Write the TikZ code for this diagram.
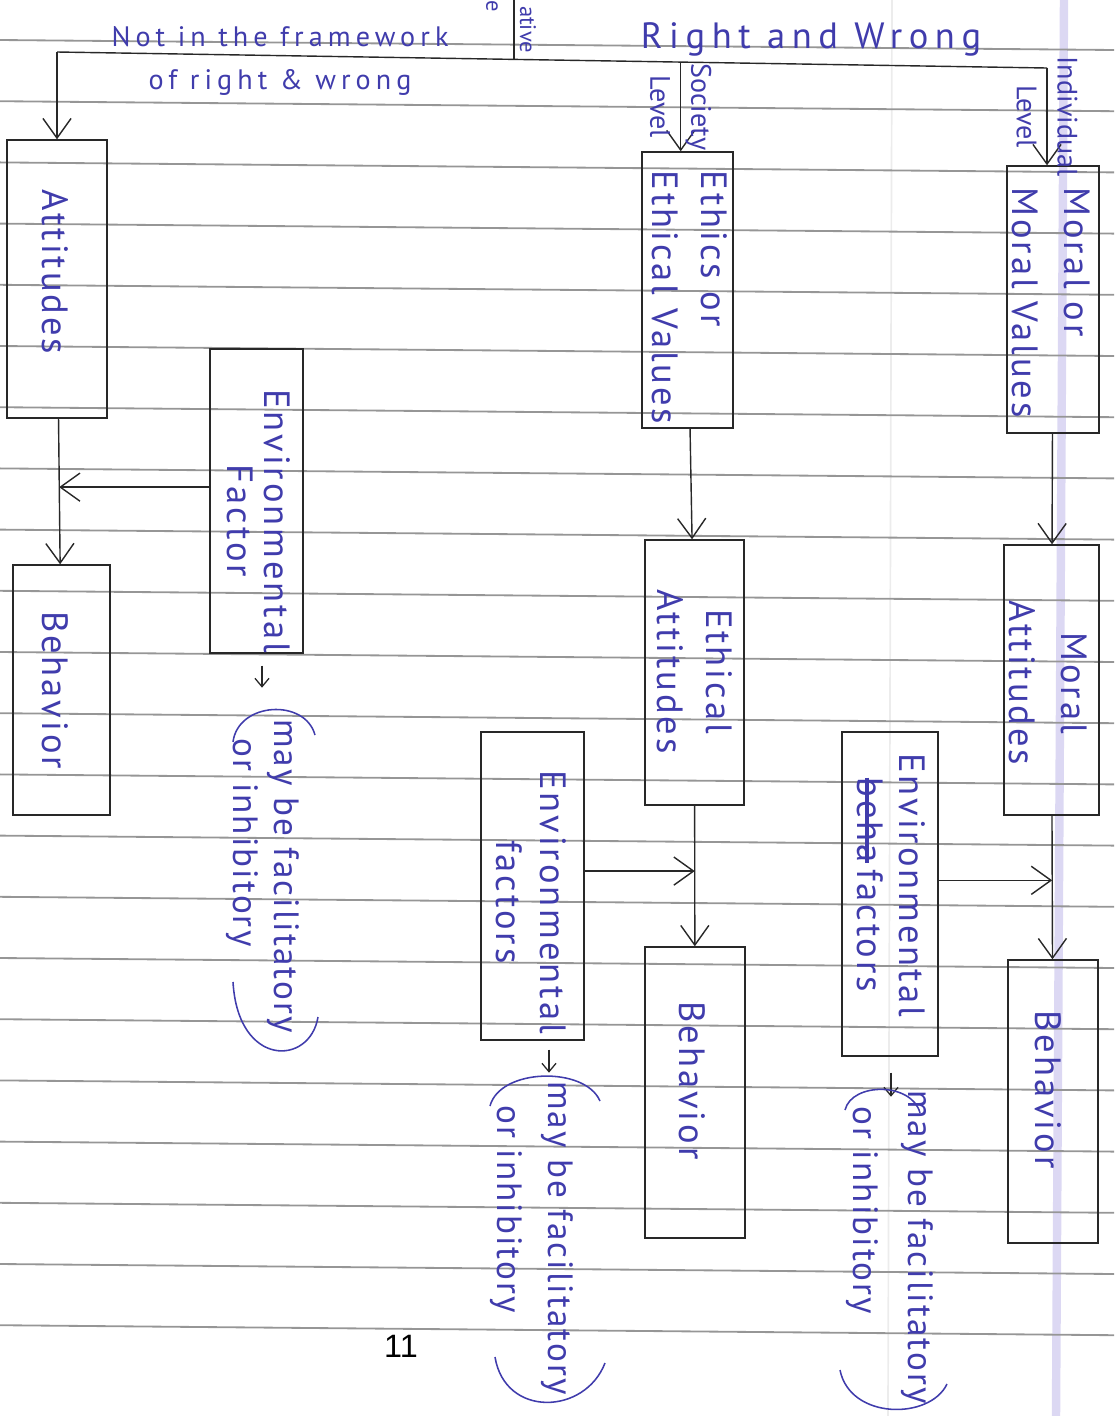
\documentclass[tikz,border=0pt]{standalone}
\usepackage{fontspec}
\setmainfont{PT Sans}
\newfontfamily\hand{PT Sans}
\newfontfamily\handbox[LetterSpace=8]{PT Sans}
\newfontfamily\handnote[LetterSpace=6]{PT Sans}
\newfontfamily\handwide[LetterSpace=18]{PT Sans}
\newfontfamily\printfont{Liberation Sans}
\usepackage{tikz}
\usetikzlibrary{arrows.meta,positioning,calc}

\definecolor{ink}{RGB}{64,60,172}
\definecolor{pencil}{RGB}{40,40,40}
\definecolor{rule}{RGB}{150,150,150}
\definecolor{margin}{RGB}{220,216,243}

% one pixel of the scanned page
\newlength{\px}
\setlength{\px}{0.025cm}

% crossed out word
\newsavebox{\crossbox}
\newcommand{\crossout}[1]{\sbox{\crossbox}{#1}\rlap{\raisebox{0.22em}{\rule{\wd\crossbox}{3pt}}}\usebox{\crossbox}}

\begin{document}
\begin{tikzpicture}[x=0.025cm, y=-0.025cm,
    box/.style={rectangle, draw=pencil, line width=1pt, inner sep=0pt},
    vtext/.style={rotate=-90, align=center, text=ink, inner sep=0pt, font=\handbox\fontsize{26}{#1}\selectfont},
    vtext/.default=36pt,
    note/.style={rotate=-90, align=left, text=ink, inner sep=0pt, font=\handnote\fontsize{25}{#1}\selectfont},
    lbl/.style={rotate=-90, align=center, text=ink, inner sep=0pt, font=\hand\fontsize{20}{29}\selectfont},
    flow/.style={draw=pencil, line width=1pt, -{Straight Barb[length=14pt,width=20pt]}},
    tick/.style={draw=pencil, line width=0.9pt, -{Straight Barb[length=6pt,width=10pt]}},
    paren/.style={draw=ink, line width=1.1pt},
    ruled/.style={draw=rule, line width=1.3pt}
]
    \useasboundingbox (0,0) rectangle (1114,1416);
    \clip (0,0) rectangle (1114,1416);

    % notebook paper
    \draw[draw=margin, line width=6pt] (1064,0) -- (1056,1416);
    \draw[draw=gray!15, line width=1.2pt] (892,0) -- (888,1416);
    \foreach \k in {0,...,21}
        \draw[ruled] (0,{40+61.2*\k}) -- (1114,{50+61.2*\k});

    % headings
    \node[text=ink, align=center, font=\handwide\fontsize{20}{30}\selectfont] (notrw) at (280,61) {Not in the framework\\of right \& wrong};
    \node[text=ink, anchor=base, font=\handwide\fontsize{26}{30}\selectfont] (rw) at (811,48) {Right and Wrong};
    \node[text=ink, rotate=-90, font=\hand\fontsize{16}{18}\selectfont] (frag1) at (492,6) {e};
    \node[text=ink, rotate=-90, anchor=east, font=\hand\fontsize{16}{18}\selectfont] (frag2) at (528,58) {ative};

    % left branch
    \node[box, minimum width=100\px, minimum height=278\px] (att) at (57,279) {};
    \node[vtext] (attT) at ($(att)+(-2,-7)$) {Attitudes};
    \node[box, minimum width=97\px, minimum height=250\px] (beh1) at (61.5,690) {};
    \node[vtext] (beh1T) at ($(beh1)+(-6,0)$) {Behavior};
    \node[box, minimum width=93\px, minimum height=304\px] (env1) at (256.5,501) {};
    \node[vtext=26pt] (env1T) at ($(env1)+(2,20)$) {Environmental\\Factor};
    \node[note=29pt] (note1) at (262.5,876) {may be facilitatory\\\hspace*{0.55em}or inhibitory};

    % society level
    \node[box, minimum width=91\px, minimum height=276\px] (ethics) at (687.5,290) {};
    \node[vtext=35pt, align=left] (ethicsT) at ($(ethics)+(2,7.5)$) {Ethics or\\Ethical Values};
    \node[box, minimum width=99\px, minimum height=265\px] (ethatt) at (694.5,672.5) {};
    \node[vtext=35pt] (ethattT) at ($(ethatt)+(0,-1)$) {Ethical\\Attitudes};
    \node[box, minimum width=100\px, minimum height=291\px] (beh2) at (695,1092.5) {};
    \node[vtext] (beh2T) at ($(beh2)+(-3,-12)$) {Behavior};
    \node[box, minimum width=103\px, minimum height=308\px] (env2) at (532.5,886) {};
    \node[vtext=31pt] (env2T) at ($(env2)+(-1,16)$) {Environmental\\factors};
    \node[note=36pt] (note2) at (532,1238) {may be facilitatory\\\hspace*{0.68em}or inhibitory};

    % individual level
    \node[box, minimum width=92\px, minimum height=267\px] (moral) at (1053,299.5) {};
    \node[vtext=37pt, align=left] (moralT) at ($(moral)+(-2,3)$) {Moral or\\Moral Values};
    \node[box, minimum width=95\px, minimum height=270\px] (moratt) at (1051.5,680) {};
    \node[vtext=37pt] (morattT) at ($(moratt)+(-3,3)$) {Moral\\Attitudes};
    \node[box, minimum width=90\px, minimum height=283\px] (beh3) at (1053,1101.5) {};
    \node[vtext] (beh3T) at ($(beh3)+(-5,-12)$) {Behavior};
    \node[box, minimum width=96\px, minimum height=324\px] (env3) at (890,894) {};
    \node[vtext=30pt] (env3T) at ($(env3)+(1,-9)$) {Environmental\\\crossout{beha}\,factors};
    \node[note=39pt] (note3) at (889.5,1247) {may be facilitatory\\\hspace*{0.46em}or inhibitory};

    % tree at the top
    \coordinate (barL) at (57,52);
    \coordinate (barR) at (1047,68);
    \coordinate (barM) at ($(barL)!0.63!(barR)$);
    \coordinate (stub) at ($(barL)!0.4616!(barR)$);
    \draw[draw=pencil, line width=1pt] (barL) -- (barR);
    \draw[draw=pencil, line width=2pt] (stub) -- ++(0,-62);
    \draw[flow] (barL) -- (barL |- att.north);
    \draw[flow] (barM) -- node[lbl] (soclvl) {Society\\Level} (barM |- ethics.north);
    \draw[flow] (barR) -- node[lbl] (indlvl) {Individual\\Level} (barR |- moral.north);

    % values to attitudes to behavior
    \draw[flow] (att) -- (beh1);
    \draw[flow] (ethics) -- (ethatt);
    \draw[flow] (ethatt) -- (beh2);
    \draw[flow] (moral) -- (moratt);
    \draw[flow] (moratt) -- (beh3);

    % environmental factors join in
    \coordinate (j1) at ($(att.south)!0.47!(beh1.north)$);
    \coordinate (j2) at ($(ethatt.south)!0.465!(beh2.north)$);
    \coordinate (j3) at ($(moratt.south)!0.45!(beh3.north)$);
    \draw[flow] (env1.west |- j1) -- (j1);
    \draw[flow] (env2.east |- j2) -- (j2);
    \draw[flow] (env3.east |- j3) -- (j3);

    % small arrows and brackets round the notes
    \draw[tick] ($(env1.south)+(5.5,12)$) -- ($(env1.south)+(5.5,34)$);
    \draw[tick] ($(env2.south)+(16.5,9)$) -- ($(env2.south)+(16.5,32)$);
    \draw[tick] ($(env3.south)+(1,16)$) -- ($(env3.south)+(1,40)$);
    \draw[paren] (233,742) .. controls (238,702) and (305,698) .. (315,735);
    \draw[paren] (233,982) .. controls (238,1068) and (310,1066) .. (318,1017);
    \draw[paren] (490,1106) .. controls (500,1068) and (585,1066) .. (600,1101);
    \draw[paren] (495,1357) .. controls (505,1418) and (585,1415) .. (605,1363);
    \draw[paren] (845,1110) .. controls (852,1082) and (912,1082) .. (920,1113);
    \draw[paren] (840,1370) .. controls (850,1420) and (930,1420) .. (947,1384);

    \node[font=\printfont\fontsize{23}{26}\selectfont] (pageno) at (401,1346) {11};
\end{tikzpicture}
\end{document}
